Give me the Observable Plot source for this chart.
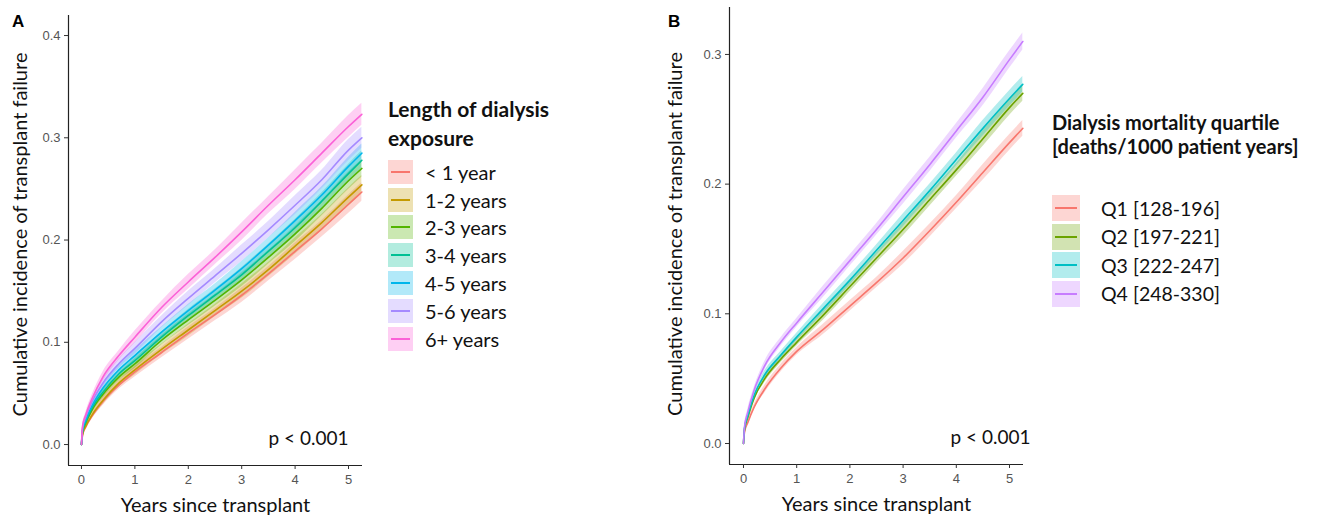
<!DOCTYPE html>
<html><head><meta charset="utf-8">
<script src="https://cdn.jsdelivr.net/npm/d3@7"></script>
<script src="https://cdn.jsdelivr.net/npm/@observablehq/plot@0.6"></script>
<style>
html,body{margin:0;padding:0;background:#fff}
body{width:1327px;height:517px;overflow:hidden;position:relative;font-family:Lato,"Open Sans",sans-serif;color:#000}
.panel{position:absolute;top:0}
.panel svg{overflow:visible}
.letter{position:absolute;font:bold 17px "Liberation Sans",Arial,sans-serif;line-height:17px}
.legend{position:absolute}
.ltitle{font-weight:bold;white-space:nowrap;color:#111}
.row{display:flex;align-items:center;white-space:nowrap;color:#111}
.key{position:relative;flex:none}
.key .ln{position:absolute;left:3px;right:3px;top:50%;height:2px;margin-top:-1px}
</style></head><body>
<div id="A" class="panel" style="left:0"></div>
<div id="B" class="panel" style="left:660px"></div>
<div class="letter" style="left:12px;top:13px">A</div>
<div class="letter" style="left:668px;top:13px">B</div>
<div id="legA" class="legend" style="left:388px;top:0"></div>
<div id="legB" class="legend" style="left:1052px;top:0"></div>
<script>
// ---------- shared ----------
const times = [0, 0.02, 0.08, 0.2, 0.4, 0.7, 1, 1.5, 2, 2.5, 3, 3.5, 4, 4.5, 5, 5.25];
const xTicks = [0, 1, 2, 3, 4, 5];
const xTitle = "Years since transplant";
const yTitle = "Cumulative incidence of transplant failure";
const pText = "p < 0.001";

// ---------- panel A ----------
const namesA = ["< 1 year", "1-2 years", "2-3 years", "3-4 years", "4-5 years", "5-6 years", "6+ years"];
const colorsA = ["#F8766D", "#C49A00", "#53B400", "#00C094", "#00B6EB", "#A58AFF", "#FB61D7"];
const lt1 = [0, 0.009, 0.017, 0.028, 0.042, 0.058, 0.071, 0.090, 0.109, 0.127, 0.146, 0.167, 0.189, 0.211, 0.235, 0.247];
const y1to2 = [0, 0.010, 0.018, 0.029, 0.043, 0.060, 0.073, 0.093, 0.112, 0.131, 0.150, 0.171, 0.194, 0.217, 0.242, 0.254];
const y2to3 = [0, 0.012, 0.021, 0.034, 0.049, 0.066, 0.079, 0.102, 0.122, 0.141, 0.161, 0.183, 0.206, 0.231, 0.258, 0.270];
const y3to4 = [0, 0.013, 0.022, 0.036, 0.051, 0.069, 0.082, 0.105, 0.126, 0.146, 0.166, 0.189, 0.212, 0.238, 0.265, 0.278];
const y4to5 = [0, 0.014, 0.024, 0.038, 0.055, 0.073, 0.087, 0.110, 0.131, 0.151, 0.172, 0.195, 0.219, 0.244, 0.272, 0.285];
const y5to6 = [0, 0.016, 0.027, 0.042, 0.060, 0.079, 0.094, 0.120, 0.143, 0.165, 0.187, 0.210, 0.234, 0.259, 0.288, 0.300];
const y6plus = [0, 0.018, 0.029, 0.045, 0.066, 0.087, 0.105, 0.134, 0.159, 0.183, 0.208, 0.234, 0.259, 0.285, 0.311, 0.323];
const seriesA = [lt1, y1to2, y2to3, y3to4, y4to5, y5to6, y6plus];
const ciA = [0, 0.001, 0.002, 0.003, 0.004, 0.004, 0.005, 0.005, 0.006, 0.006, 0.007, 0.007, 0.008, 0.008, 0.009, 0.009];
const ciScaleA = [1, 1, 0.95, 1, 1, 1.15, 1.2];
const yTicksA = [0, 0.1, 0.2, 0.3, 0.4];
const legendTitleA = ["Length of dialysis", "exposure"];

// ---------- panel B ----------
const namesB = ["Q1 [128-196]", "Q2 [197-221]", "Q3 [222-247]", "Q4 [248-330]"];
const colorsB = ["#F8766D", "#6BA300", "#00BFC4", "#C77CFF"];
const q1 = [0, 0.009, 0.016, 0.028, 0.042, 0.058, 0.071, 0.088, 0.106, 0.124, 0.143, 0.164, 0.186, 0.209, 0.232, 0.243];
const q2 = [0, 0.011, 0.020, 0.035, 0.050, 0.065, 0.078, 0.099, 0.121, 0.143, 0.165, 0.188, 0.211, 0.235, 0.259, 0.270];
const q3 = [0, 0.012, 0.021, 0.037, 0.053, 0.068, 0.082, 0.104, 0.126, 0.149, 0.172, 0.195, 0.219, 0.243, 0.266, 0.277];
const q4 = [0, 0.013, 0.024, 0.041, 0.060, 0.078, 0.093, 0.117, 0.141, 0.165, 0.190, 0.215, 0.241, 0.267, 0.296, 0.310];
const seriesB = [q1, q2, q3, q4];
const ciB = [0, 0.001, 0.002, 0.002, 0.003, 0.003, 0.003, 0.004, 0.004, 0.004, 0.005, 0.005, 0.005, 0.006, 0.006, 0.006];
const ciScaleB = [1, 1, 1, 1.1];
const yTicksB = [0, 0.1, 0.2, 0.3];
const legendTitleB = ["Dialysis mortality quartile", "[deaths/1000 patient years]"];

function buildRows(names, series, ci, scale) {
  const rows = [];
  names.forEach((g, k) => {
    series[k].forEach((v, i) => {
      const h = ci[i] * scale[k];
      rows.push({group: g, t: times[i], v, lo: Math.max(0, v - h), hi: v + h});
    });
  });
  return rows;
}

function panel(cfg) {
  const data = buildRows(cfg.names, cfg.series, cfg.ci, cfg.scale);
  return Plot.plot({
    width: cfg.width, height: 517,
    marginLeft: cfg.ml, marginRight: cfg.mr, marginTop: cfg.mt, marginBottom: cfg.mb,
    style: {fontFamily: "Lato, sans-serif", background: "transparent", overflow: "visible"},
    x: {domain: cfg.xDomain},
    y: {domain: cfg.yDomain},
    color: {domain: cfg.names, range: cfg.colors},
    marks: [
      Plot.areaY(data, {x: "t", y1: "lo", y2: "hi", z: "group", fill: "group", fillOpacity: 0.3, curve: "monotone-x"}),
      Plot.lineY(data, {x: "t", y: "v", z: "group", stroke: "group", strokeWidth: 1.6, curve: "monotone-x"}),
      Plot.ruleX([cfg.xDomain[0]], {stroke: "#222", strokeWidth: 1.2}),
      Plot.ruleY([cfg.yDomain[0]], {stroke: "#222", strokeWidth: 1.2}),
      Plot.axisX({ticks: xTicks, tickFormat: d3.format("d"), tickSize: 4, tickPadding: 5, fontSize: 13, stroke: "#333", fill: "#555",
        label: null, fontFamily: "Liberation Sans, Arial, sans-serif"}),
      Plot.axisY({ticks: cfg.yTicks, tickFormat: d3.format(".1f"), tickSize: 4, tickPadding: 4, fontSize: 13,
        stroke: "#333", fill: "#555", label: null, fontFamily: "Liberation Sans, Arial, sans-serif"}),
      Plot.text([xTitle], {frameAnchor: "bottom", textAnchor: "middle", dy: 40, lineAnchor: "middle", fontSize: 20, fill: "#111"}),
      Plot.text([yTitle], {frameAnchor: "left", textAnchor: "middle", lineAnchor: "middle", rotate: -90, dx: cfg.ytDx, dy: cfg.ytDy, fontSize: 20, fill: "#111"}),
      Plot.text([pText], {frameAnchor: "bottom-right", textAnchor: "end", lineAnchor: "middle", dx: cfg.pDx, dy: -27, fontSize: 19, fill: "#111"})
    ]
  });
}

document.getElementById("A").append(panel({
  names: namesA, colors: colorsA, series: seriesA, ci: ciA, scale: ciScaleA,
  width: 370, ml: 68, mr: 8, mt: 15, mb: 52,
  xDomain: [-0.243, 5.262], yDomain: [-0.0205, 0.4196], yTicks: yTicksA,
  ytDx: -48, ytDy: -6, pDx: -14
}));
document.getElementById("B").append(panel({
  names: namesB, colors: colorsB, series: seriesB, ci: ciB, scale: ciScaleB,
  width: 380, ml: 69, mr: 17, mt: 7, mb: 53,
  xDomain: [-0.263, 5.263], yDomain: [-0.0162, 0.3362], yTicks: yTicksB,
  ytDx: -54, ytDy: -2, pDx: 7
}));

function legend(el, title, names, colors, o) {
  title.forEach((s, i) => {
    const tdiv = document.createElement("div");
    tdiv.className = "ltitle";
    tdiv.style.cssText = `position:absolute;left:0;top:${o.titleTop + i * o.titleLH}px;height:${o.titleLH}px;line-height:${o.titleLH}px;font-size:${o.titleFS}px`;
    tdiv.textContent = s;
    el.append(tdiv);
  });
  names.forEach((n, k) => {
    const r = document.createElement("div");
    r.className = "row";
    r.style.cssText = `position:absolute;left:0;top:${o.rowTop + k * o.pitch}px;height:${o.pitch}px;font-size:${o.fs}px`;
    const key = document.createElement("div");
    key.className = "key";
    key.style.cssText = `width:${o.kw}px;height:${o.kh}px;background:${d3.color(colors[k]).copy({opacity: 0.3})}`;
    const ln = document.createElement("div");
    ln.className = "ln";
    ln.style.background = colors[k];
    key.append(ln);
    const lab = document.createElement("span");
    lab.textContent = n;
    lab.style.marginLeft = o.gap + "px";
    r.append(key, lab);
    el.append(r);
  });
}
legend(document.getElementById("legA"), legendTitleA, namesA, colorsA,
  {titleTop: 94, titleLH: 29, titleFS: 21, rowTop: 158, pitch: 27.8, kw: 25, kh: 24, gap: 12, fs: 20});
legend(document.getElementById("legB"), legendTitleB, namesB, colorsB,
  {titleTop: 110, titleLH: 24, titleFS: 20, rowTop: 194, pitch: 28.5, kw: 28, kh: 26, gap: 21, fs: 19.5});
</script>
</body></html>
